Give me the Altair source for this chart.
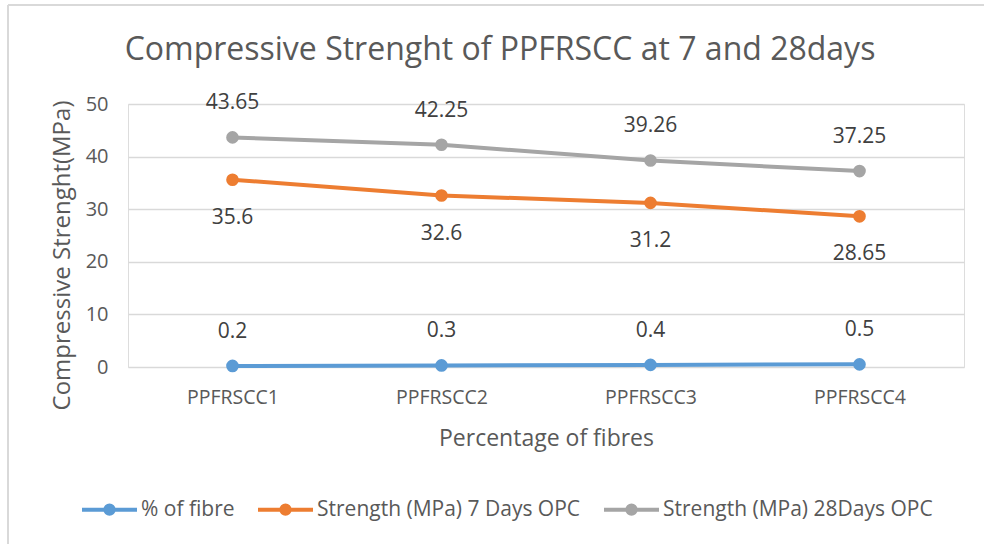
import altair as alt
import pandas as pd

categories = ["PPFRSCC1", "PPFRSCC2", "PPFRSCC3", "PPFRSCC4"]
fibre = [0.2, 0.3, 0.4, 0.5]
days7 = [35.6, 32.6, 31.2, 28.65]
days28 = [43.65, 42.25, 39.26, 37.25]
series_names = ["% of fibre", "Strength (MPa) 7 Days OPC", "Strength (MPa) 28Days OPC"]
colors = ["#5B9BD5", "#ED7D31", "#A5A5A5"]

rows = []
for name, vals in zip(series_names, [fibre, days7, days28]):
    for c, v in zip(categories, vals):
        rows.append({"cat": c, "value": v, "series": name, "label": f"{v:g}"})
df = pd.DataFrame(rows)

FONT = "Open Sans, sans-serif"
TXT = "#595959"

x = alt.X("cat:N", sort=categories,
          scale=alt.Scale(type="point", padding=0.5),
          axis=alt.Axis(title="Percentage of fibres", labelAngle=0, labelPadding=21,
                        titlePadding=21, domain=False, ticks=False, grid=False,
                        labelFontSize=19.5, titleFontSize=23, labelColor=TXT,
                        titleColor=TXT, labelFont=FONT, titleFont=FONT,
                        titleFontWeight="normal"))
y = alt.Y("value:Q", scale=alt.Scale(domain=[0, 50], nice=False),
          axis=alt.Axis(title="Compressive Strenght(MPa)", values=[0, 10, 20, 30, 40, 50],
                        domain=False, ticks=False, labelPadding=20,
                        titleX=-66, titleY=151, titleAngle=270, titleAlign="center",
                        titleBaseline="middle",
                        gridColor="#D9D9D9", gridWidth=1.3,
                        labelFontSize=20, titleFontSize=24, labelColor=TXT,
                        titleColor=TXT, labelFont=FONT, titleFont=FONT,
                        titleFontWeight="normal"))

legend_path = "M-1,0H1M0.15,0A0.15,0.15 0 1 1 -0.15,0A0.15,0.15 0 1 1 0.15,0Z"
color = alt.Color("series:N", sort=series_names,
                  scale=alt.Scale(domain=series_names, range=colors),
                  legend=alt.Legend(title=None, orient="none", direction="horizontal",
                                    legendX=-48, legendY=376, columns=3,
                                    symbolType=legend_path, symbolSize=3025,
                                    symbolStrokeWidth=4, labelFontSize=21,
                                    labelFont=FONT, labelColor=TXT, labelOffset=2,
                                    labelLimit=0, columnPadding=15))

base = alt.Chart(df)
lines = base.mark_line(strokeWidth=4).encode(x=x, y=y, color=color, detail="series:N")
points = base.mark_point(filled=True, size=160, opacity=1).encode(x=x, y=y, color=color)

def text_layer(name, dy):
    return base.transform_filter(alt.datum.series == name).mark_text(
        fontSize=21, font=FONT, color="#404040", baseline="middle", dy=dy
    ).encode(x=x, y=y, text="label:N")

labels_fibre = text_layer(series_names[0], -34)
labels_7 = text_layer(series_names[1], 38)
labels_28 = text_layer(series_names[2], -34)

border_top = alt.Chart(df).mark_rule(color="#D9D9D9", strokeWidth=1.5).encode(
    x=alt.value(-120), x2=alt.value(880), y=alt.value(-99))
border_left = alt.Chart(df).mark_rule(color="#D9D9D9", strokeWidth=1.5).encode(
    x=alt.value(-120), y=alt.value(-99), y2=alt.value(460))

chart = alt.layer(border_top, border_left, lines, points, labels_fibre, labels_7,
                  labels_28).properties(
    width=836, height=263,
    title=alt.Title("Compressive Strenght of PPFRSCC at  7 and 28days", fontSize=32,
                    font=FONT, color=TXT, fontWeight="normal", anchor="middle",
                    offset=0, dy=63, dx=-46),
    autosize=alt.AutoSizeParams(type="none"),
    padding={"left": 128, "top": 104, "right": 20, "bottom": 177},
).configure_view(stroke=None).configure(background="white")

chart.save("out.html", embed_options={"renderer": "svg", "actions": False})
